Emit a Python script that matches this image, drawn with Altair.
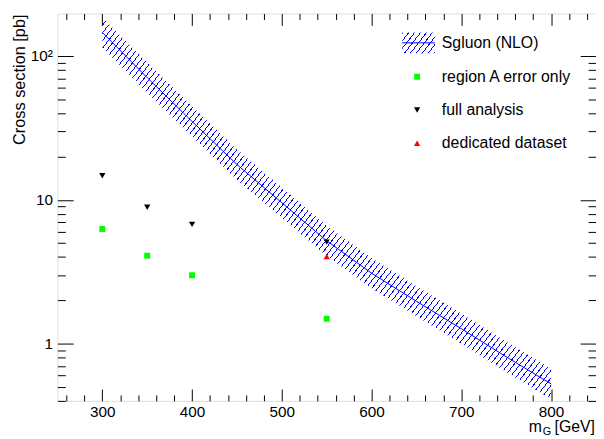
import math
import altair as alt
import pandas as pd

# ---------------- data ----------------
mass_curve = [300, 350, 400, 450, 500, 550, 600, 650, 700, 750, 800]
xsec_nlo = [146, 70.8, 35.1, 17.6, 9.55, 5.19, 3.09, 1.97, 1.27, 0.81, 0.525]
xsec_nlo_up = [186, 90.2, 44.7, 22.4, 12.2, 6.6, 3.94, 2.51, 1.62, 1.03, 0.67]
xsec_nlo_down = [114.6, 55.6, 27.6, 13.8, 7.5, 4.07, 2.43, 1.55, 1.0, 0.636, 0.41]

mass_regionA = [300, 350, 400, 550]
xsec_regionA = [6.27, 4.09, 2.99, 1.49]
mass_full = [300, 350, 400, 550]
xsec_full = [14.7, 8.88, 6.75, 5.08]
mass_dedicated = [550]
xsec_dedicated = [4.04]

legend_labels = ["Sgluon (NLO)", "region A error only", "full analysis", "dedicated dataset"]

x_major = [300, 400, 500, 600, 700, 800]
x_minor = [v for v in range(260, 850, 20) if v % 100 != 0]
y_major = [1, 10, 100]
y_minor = [0.4, 0.5, 0.6, 0.7, 0.8, 0.9, 2, 3, 4, 5, 6, 7, 8, 9,
           20, 30, 40, 50, 60, 70, 80, 90]

# ---------------- layout ----------------
W, H = 545, 392
FONT = "Liberation Sans"
BLUE = "#0000ff"

curve = pd.DataFrame({"m": mass_curve, "xs": xsec_nlo,
                      "up": xsec_nlo_up, "down": xsec_nlo_down})
regA = pd.DataFrame({"m": mass_regionA, "xs": xsec_regionA})
full = pd.DataFrame({"m": mass_full, "xs": xsec_full})
ded = pd.DataFrame({"m": mass_dedicated, "xs": xsec_dedicated})
one = pd.DataFrame({"k": [0]})  # single row for decorations


def xs():
    return alt.Scale(domain=[250, 850], nice=False, zero=False)


def ys():
    return alt.Scale(type="log", domain=[0.4, 197.6], nice=False)


def hatch(w, h, spacing=6.0, angle=52, frac=0.18):
    t = math.tan(math.radians(angle))
    r = h / (w * t)
    k = (1 + r) / (1 + r * r)
    dt = spacing / (w * k * (1 + r * r))
    clear = "rgba(0,0,255,0)"
    stops = []
    a = 0.0
    while a < 1:
        b = min(1.0, a + frac * dt)
        c = min(1.0, a + dt)
        stops += [alt.GradientStop(color=BLUE, offset=a),
                  alt.GradientStop(color=BLUE, offset=b),
                  alt.GradientStop(color=clear, offset=b),
                  alt.GradientStop(color=clear, offset=c)]
        a += dt
    return alt.Gradient(gradient="linear", stops=stops, x1=0, y1=0, x2=k, y2=k * r)


noax = None

band = alt.Chart(curve).mark_area(fill=hatch(454, 386), clip=True).encode(
    x=alt.X("m:Q", scale=xs(), axis=noax),
    y=alt.Y("up:Q", scale=ys(), axis=noax),
    y2="down:Q",
)
line = alt.Chart(curve).mark_line(color=BLUE, strokeWidth=1, clip=True).encode(
    x=alt.X("m:Q", scale=xs(), axis=noax),
    y=alt.Y("xs:Q", scale=ys(), axis=noax),
)

# main layer carrying labelled axes
ptsA = alt.Chart(regA).mark_point(shape="square", filled=True, size=36,
                                   color="#00ff00", opacity=1).encode(
    x=alt.X("m:Q", scale=xs(), axis=alt.Axis(
        orient="bottom", values=x_major, format="d", ticks=False, tickSize=0,
        domain=False, grid=False, labelPadding=4, title=None,
        labelFont=FONT, labelFontSize=15.5, labelColor="black",
        labelFontWeight="normal")),
    y=alt.Y("xs:Q", scale=ys(), axis=alt.Axis(
        orient="left", values=y_major, format="~g", ticks=False, tickSize=0,
        domain=False, grid=False, labelPadding=5, title=None,
        labelExpr="datum.value == 100 ? '10²' : datum.label",
        labelFont=FONT, labelFontSize=15.5, labelColor="black",
        labelFontWeight="normal")),
)
ptsF = alt.Chart(full).mark_point(shape="triangle-down", filled=True, size=40,
                                   color="black", opacity=1).encode(
    x=alt.X("m:Q", scale=xs(), axis=noax),
    y=alt.Y("xs:Q", scale=ys(), axis=noax),
)
ptsD = alt.Chart(ded).mark_point(shape="triangle-up", filled=True, size=40,
                                  color="#ff0000", opacity=1).encode(
    x=alt.X("m:Q", scale=xs(), axis=noax),
    y=alt.Y("xs:Q", scale=ys(), axis=noax),
)


def tick_layer(xorient, xoff, xvals, xlen, yorient, yoff, yvals, ylen):
    common = dict(labels=False, domain=False, grid=False, title=None,
                  ticks=True, tickColor="black", tickWidth=1)
    return alt.Chart(ded).mark_point(opacity=0).encode(
        x=alt.X("m:Q", scale=xs(), axis=alt.Axis(
            orient=xorient, offset=xoff, values=xvals, tickSize=xlen, **common)),
        y=alt.Y("xs:Q", scale=ys(), axis=alt.Axis(
            orient=yorient, offset=yoff, values=yvals, tickSize=ylen, **common)),
    )


# inward ticks: bottom/left edges
t1 = tick_layer("top", -H, x_major, 12, "right", -W, y_major, 16)
t2 = tick_layer("top", -H, x_minor, 6, "right", -W, y_minor, 8)
# inward ticks: top/right edges
t3 = tick_layer("bottom", -H, x_major, 12, "left", -W, y_major, 16)
t4 = tick_layer("bottom", -H, x_minor, 6, "left", -W, y_minor, 8)

# ---------------- legend ----------------
row_y = [29.7, 64, 97.7, 131.3]
leg_x_marker = 364
leg_x_text = 389

leg_box = alt.Chart(one).mark_rect(fill=hatch(33, 21, spacing=6.0, angle=52),
                                     stroke=None).encode(
    x=alt.value(349), x2=alt.value(382),
    y=alt.value(row_y[0] - 10.5), y2=alt.value(row_y[0] + 10.5))
leg_line = alt.Chart(one).mark_rule(color=BLUE, strokeWidth=1).encode(
    x=alt.value(349), x2=alt.value(382), y=alt.value(row_y[0]))


def leg_text(txt, y):
    return alt.Chart(one).mark_text(
        text=txt, align="left", baseline="middle", font=FONT, fontSize=16,
        fontWeight="normal", color="black").encode(
        x=alt.value(leg_x_text), y=alt.value(y))


leg_sq = alt.Chart(one).mark_point(shape="square", filled=True, size=36,
                                    color="#00ff00", opacity=1).encode(
    x=alt.value(leg_x_marker), y=alt.value(row_y[1]))
leg_td = alt.Chart(one).mark_point(shape="triangle-down", filled=True, size=40,
                                    color="black", opacity=1).encode(
    x=alt.value(leg_x_marker), y=alt.value(row_y[2]))
leg_tu = alt.Chart(one).mark_point(shape="triangle-up", filled=True, size=40,
                                    color="#ff0000", opacity=1).encode(
    x=alt.value(leg_x_marker), y=alt.value(row_y[3]))

# ---------------- axis titles ----------------
ytitle = alt.Chart(one).mark_text(
    text="Cross section [pb]", angle=270, align="right", baseline="middle",
    font=FONT, fontSize=16.5, fontWeight="normal", color="black").encode(
    x=alt.value(-38), y=alt.value(1))
xt_m = alt.Chart(one).mark_text(
    text="m", align="left", baseline="alphabetic", font=FONT, fontSize=16,
    fontWeight="normal", color="black").encode(x=alt.value(477), y=alt.value(423))
xt_g = alt.Chart(one).mark_text(
    text="G", align="left", baseline="alphabetic", font=FONT, fontSize=11,
    fontWeight="normal", color="black").encode(x=alt.value(491), y=alt.value(427))
xt_u = alt.Chart(one).mark_text(
    text="[GeV]", align="right", baseline="alphabetic", font=FONT, fontSize=16,
    fontWeight="normal", color="black").encode(x=alt.value(544), y=alt.value(423))

chart = alt.layer(
    band, line, ptsA, ptsF, ptsD, t1, t2, t3, t4,
    leg_box, leg_line, leg_text(legend_labels[0], row_y[0]),
    leg_sq, leg_text(legend_labels[1], row_y[1]),
    leg_td, leg_text(legend_labels[2], row_y[2]),
    leg_tu, leg_text(legend_labels[3], row_y[3]),
    ytitle, xt_m, xt_g, xt_u,
).resolve_scale(x="independent", y="independent").properties(
    width=W, height=H,
    autosize=alt.AutoSizeParams(type="none"),
    padding={"left": 50, "top": 3, "right": 0, "bottom": 36},
).configure_view(stroke="black", strokeWidth=1).configure(background="white")

chart.save("out.html", embed_options={"renderer": "svg", "actions": False})
